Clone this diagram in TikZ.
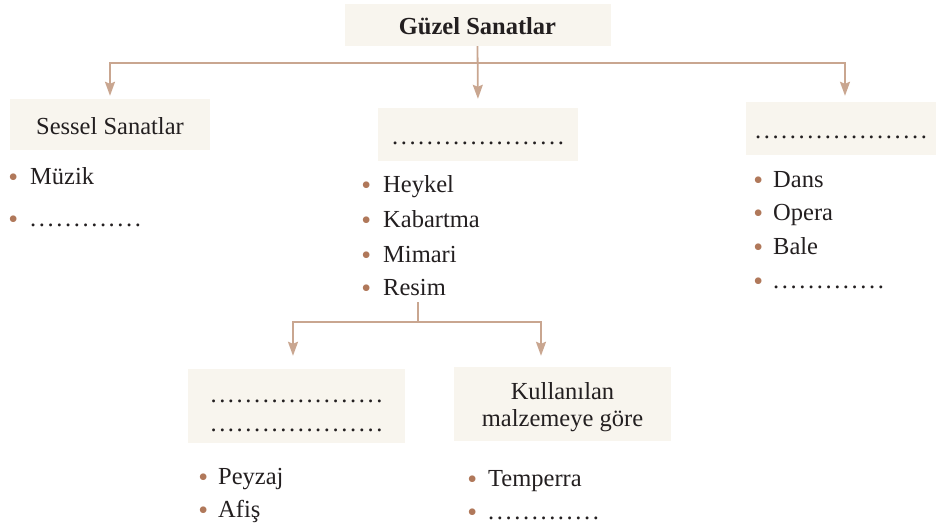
\documentclass[tikz,border=0pt]{standalone}
\usepackage{fontspec}
\setmainfont{Liberation Serif}
\usetikzlibrary{arrows.meta}
\definecolor{boxfill}{HTML}{F8F5EE}
\definecolor{linec}{HTML}{C9A690}
\definecolor{bulc}{HTML}{B0785A}
\definecolor{textc}{HTML}{231F20}
\newcommand\dotrow[1]{.\foreach\i in {2,...,#1}{\kern2.6pt.}}
\newcommand\bl[1]{{\color{bulc}\makebox[7pt]{\smash{\raisebox{-2.3pt}{\fontsize{28}{28}\selectfont\textbullet}}}}\hspace{#1}}
\begin{document}
\begin{tikzpicture}[x={(1pt,0pt)},y={(0pt,-1pt)},
  every node/.style={text=textc},
  box/.style={fill=boxfill, inner sep=0pt, font=\fontsize{24.5}{29}\selectfont},
  onebox/.style={box, text height=21pt, text depth=2pt},
  item/.style={anchor=base west, inner sep=0pt, font=\fontsize{24.5}{29}\selectfont},
  conn/.style={draw=linec, line width=1.8pt, -{Stealth[length=14pt,width=10pt,inset=2pt]}},
  plain/.style={draw=linec, line width=1.8pt}]
\useasboundingbox (0,0) rectangle (936,527);
% boxes
\node[onebox, minimum width=266pt, minimum height=42pt, font=\fontsize{24.5}{29}\selectfont\bfseries] (top) at (477.5,25) {Güzel Sanatlar};
\node[onebox, minimum width=200pt, minimum height=51pt] (sessel) at (110,124.5) {Sessel Sanatlar};
\node[onebox, minimum width=200pt, minimum height=53pt] (mid) at (478,134.5) {\dotrow{20}};
\node[onebox, minimum width=190pt, minimum height=53pt] (rbox) at (841,128.5) {\dotrow{20}};
\node[box, minimum width=217pt, minimum height=74pt, align=center] (bl) at (296.5,406) {\rule{0pt}{23pt}\dotrow{20}\\\dotrow{20}\rule[-2pt]{0pt}{2pt}};
\node[box, minimum width=217pt, minimum height=74pt, align=center, font=\fontsize{24.5}{27}\selectfont] (br) at (562.5,404) {\rule{0pt}{23pt}Kullanılan\\malzemeye göre\rule[-2pt]{0pt}{2pt}};
% items
\node[item] (muzik) at (9.5,184) {\bl{13.5pt}Müzik};
\node[item] (sdots) at (9.5,226) {\bl{13.5pt}\dotrow{13}};
\node[item] (heykel) at (362.5,192) {\bl{13.5pt}Heykel};
\node[item] (kabartma) at (362.5,227) {\bl{13.5pt}Kabartma};
\node[item] (mimari) at (362.5,262) {\bl{13.5pt}Mimari};
\node[item] (resim) at (362.5,295) {\bl{13.5pt}Resim};
\node[item] (dans) at (754.5,187) {\bl{11.5pt}Dans};
\node[item] (opera) at (754.5,220) {\bl{11.5pt}Opera};
\node[item] (bale) at (754.5,254) {\bl{11.5pt}Bale};
\node[item] (rdots) at (754.5,288) {\bl{11.5pt}\dotrow{13}};
\node[item] (peyzaj) at (199.5,484) {\bl{11.5pt}Peyzaj};
\node[item] (afis) at (199.5,517) {\bl{11.5pt}Afiş};
\node[item] (temperra) at (468.5,486) {\bl{12.5pt}Temperra};
\node[item] (tdots) at (468.5,519) {\bl{12.5pt}\dotrow{13}};
% connectors
\coordinate (hub) at (477.5,63);
\draw[conn, shorten >=9pt] (top.south) -- (mid.north);
\draw[conn, shorten >=3pt] (hub) -| (sessel.north);
\draw[conn, shorten >=6pt] (hub) -| ([xshift=4pt]rbox.north);
\coordinate (rs) at (418,302);
\coordinate (split) at (418,322);
\draw[plain] (rs) -- (split);
\draw[conn, shorten >=13pt] (split) -| ([xshift=-3.5pt]bl.north);
\draw[conn, shorten >=11pt] (split) -| ([xshift=-21.5pt]br.north);
\end{tikzpicture}
\end{document}
